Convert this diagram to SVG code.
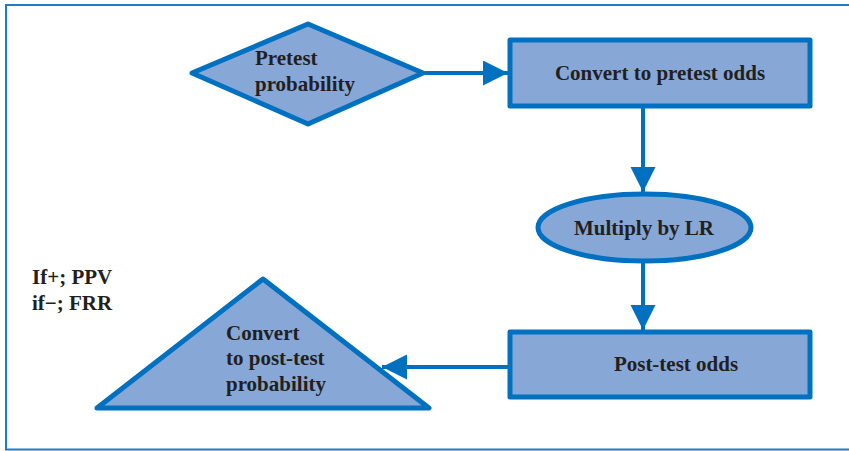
<svg xmlns="http://www.w3.org/2000/svg" width="849" height="451" viewBox="0 0 849 451">
<style>
.shape{fill:#87A7D6;stroke:#0070C0;stroke-width:5;stroke-linejoin:round}
.conn{stroke:#0070C0;stroke-width:4;fill:none}
text{font-family:"Liberation Serif","Times New Roman",serif;font-weight:bold;font-size:21px;fill:#231F20}
.c{text-anchor:middle}
</style>
<defs>
<marker id="ah" markerUnits="userSpaceOnUse" markerWidth="26" markerHeight="26" refX="25" refY="12.5" orient="auto">
<path d="M0,0 L25,12.5 L0,25 Z" fill="#0070C0"/>
</marker>
</defs>
<rect x="6" y="5" width="860" height="444.5" fill="#fff" stroke="#1A7CCB" stroke-width="2"/>
<g id="connectors">
<line class="conn" x1="425" y1="73" x2="508" y2="73" marker-end="url(#ah)"/>
<line class="conn" x1="643" y1="108" x2="643" y2="192" marker-end="url(#ah)"/>
<line class="conn" x1="643" y1="263" x2="643" y2="330" marker-end="url(#ah)"/>
<line class="conn" x1="508" y1="367" x2="382" y2="367" marker-end="url(#ah)"/>
</g>
<g id="pretest-probability">
<polygon class="shape" points="192,73 308,24 423,73 308,124"/>
<text x="255" y="65">Pretest</text>
<text x="255" y="91">probability</text>
</g>
<g id="convert-pretest-odds">
<rect class="shape" x="510" y="40" width="300" height="66" stroke-linejoin="miter"/>
<text class="c" x="660" y="80">Convert to pretest odds</text>
</g>
<g id="multiply-lr">
<ellipse class="shape" cx="644.5" cy="227.5" rx="106.5" ry="33.5"/>
<text class="c" x="644" y="235">Multiply by LR</text>
</g>
<g id="post-test-odds">
<rect class="shape" x="510" y="332" width="300" height="65" stroke-linejoin="miter"/>
<text class="c" x="676" y="371">Post-test odds</text>
</g>
<g id="convert-post-test-probability">
<polygon class="shape" points="263,279 429,408 97,408"/>
<text x="226" y="340">Convert</text>
<text x="226" y="365">to post-test</text>
<text x="226" y="391">probability</text>
</g>
<g id="note">
<text x="32" y="284" font-size="20">If+; PPV</text>
<text x="32" y="310" font-size="20">if−; FRR</text>
</g>
</svg>
